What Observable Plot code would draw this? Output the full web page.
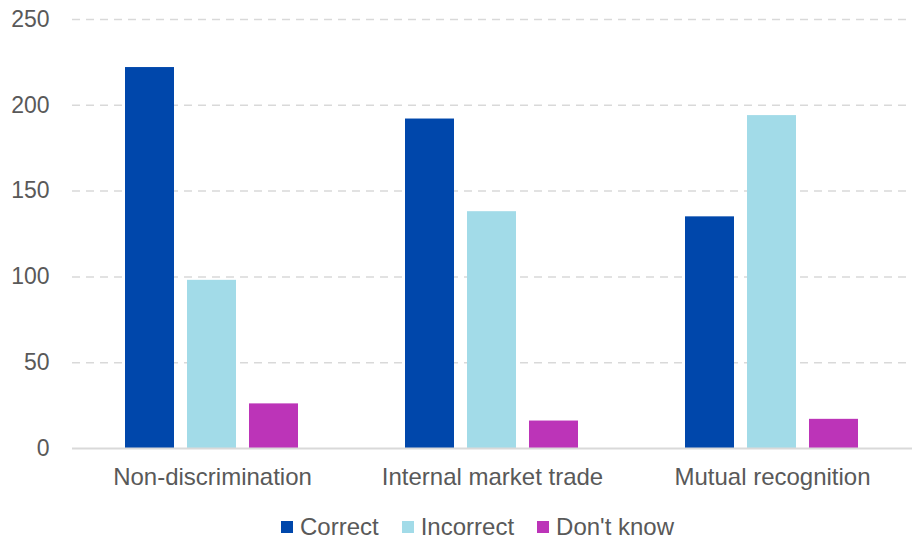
<!DOCTYPE html>
<html>
<head>
<meta charset="utf-8">
<script src="https://cdn.jsdelivr.net/npm/d3@7"></script>
<script src="https://cdn.jsdelivr.net/npm/@observablehq/plot@0.6"></script>
<style>
  body { margin: 0; background: #fff; font-family: "Liberation Sans", Arial, sans-serif; }
  #legend { display: flex; font-size: 24px; color: #595959; margin-left: 281px; margin-top: 13px; line-height: 28px; }
  #legend span.item { display: flex; align-items: center; margin-right: 23px; }
  #legend span.sw { display: inline-block; width: 12px; height: 12px; margin-right: 7px; }
</style>
</head>
<body>
<div id="chart"></div>
<script>
const categories = ["Non-discrimination", "Internal market trade", "Mutual recognition"];
const seriesNames = ["Correct", "Incorrect", "Don't know"];
const correct = [222, 192, 135];
const incorrect = [98, 138, 194];
const dontKnow = [26, 16, 17];
const colors = ["#0047AB", "#A2DBE8", "#BC34B8"];
const yTicks = [0, 50, 100, 150, 200, 250];

const seriesValues = [correct, incorrect, dontKnow];
const data = [];
categories.forEach((c, i) => {
  seriesNames.forEach((s, j) => data.push({category: c, series: s, value: seriesValues[j][i]}));
});

const plot = Plot.plot({
  width: 913,
  height: 500,
  marginLeft: 71,
  marginRight: 0,
  marginTop: 19,
  marginBottom: 52,
  style: {fontFamily: "'Liberation Sans', Arial, sans-serif", fontSize: "22px", color: "#595959"},
  fx: {domain: categories, padding: 0, label: null},
  x: {domain: seriesNames, paddingInner: 0.206, paddingOuter: 0.83, axis: null},
  y: {domain: [0, 250], ticks: yTicks, label: null},
  color: {domain: seriesNames, range: colors},
  marks: [
    Plot.ruleY(yTicks.filter(d => d > 0), {stroke: "#d9d9d9", strokeWidth: 1.5, strokeDasharray: "8,6"}),
    Plot.axisY({ticks: yTicks, tickSize: 0, tickPadding: 23, fontSize: 23, fill: "#595959", label: null}),
    Plot.axisFx({anchor: "bottom", tickSize: 0, tickPadding: 19, fontSize: 24, fill: "#595959", label: null}),
    Plot.barY(data, {fx: "category", x: "series", y: "value", fill: "series"}),
    Plot.ruleY([0], {stroke: "#d9d9d9", strokeWidth: 2})
  ]
});
document.getElementById("chart").appendChild(plot);

const legend = document.createElement("div");
legend.id = "legend";
seriesNames.forEach((s, i) => {
  const item = document.createElement("span");
  item.className = "item";
  item.innerHTML = `<span class="sw" style="background:${colors[i]}"></span>${s}`;
  legend.appendChild(item);
});
document.body.appendChild(legend);
</script>
</body>
</html>
